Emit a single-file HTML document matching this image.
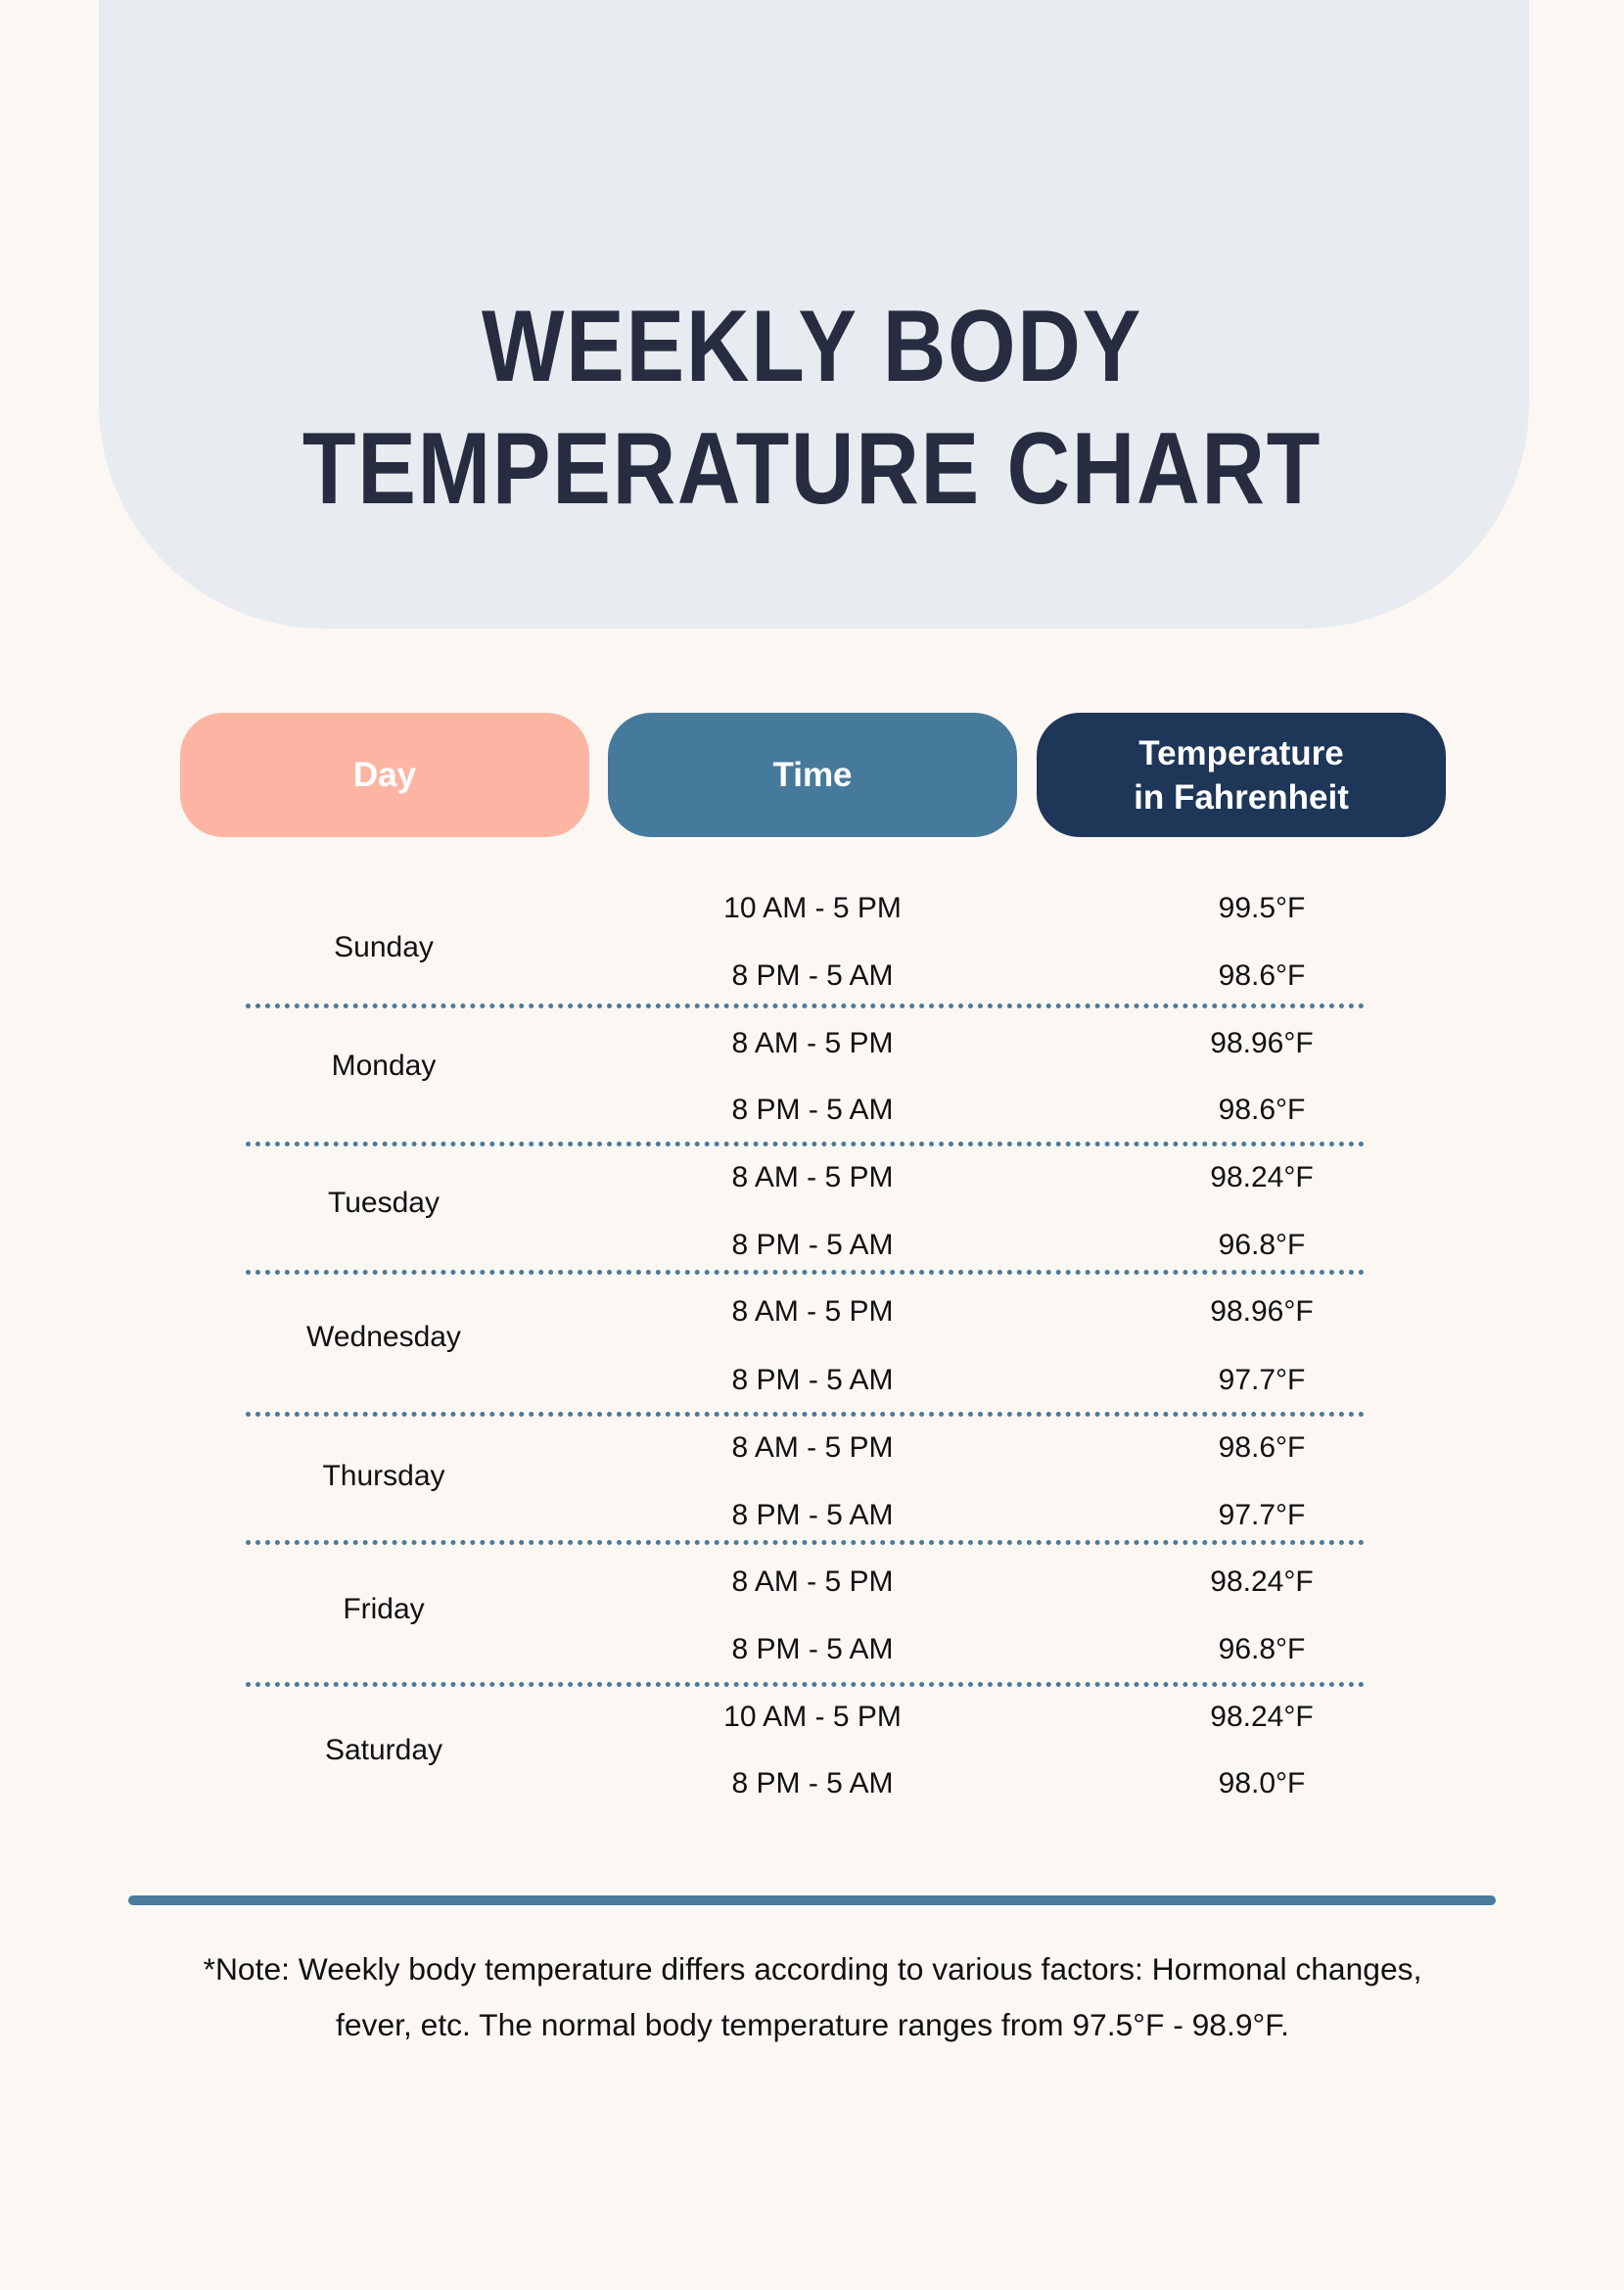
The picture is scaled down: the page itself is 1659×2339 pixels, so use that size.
<!DOCTYPE html>
<html><head><meta charset="utf-8"><style>
*{margin:0;padding:0;box-sizing:border-box}
body{width:1659px;height:2339px;background:#FBF7F3;position:relative;overflow:hidden;font-family:"Liberation Sans",sans-serif;color:#111}
.panel{position:absolute;left:101px;top:-20px;width:1461px;height:662px;background:#E8ECF1;border-radius:0 0 230px 230px}
.t{position:absolute;left:0;width:1659px;text-align:center;line-height:1}
.title{font-weight:bold;color:#282C41;font-size:104px;transform:scaleX(0.86);letter-spacing:2px}
.pill{position:absolute;top:728px;height:127px;width:418px;border-radius:44px;color:#fff;font-weight:bold;font-size:35px;display:flex;align-items:center;justify-content:center;text-align:center;line-height:45px}
.c{position:absolute;transform:translate(-50%,-50%);font-size:30px;white-space:nowrap;line-height:1}
.dot{position:absolute;left:251px;width:1143px;border-top:5px dotted #4A7A9C}
.r{margin-top:2px}
</style></head><body>
<div class="panel"></div>
<div class="t title" style="top:302px">WEEKLY BODY</div>
<div class="t title" style="top:427px">TEMPERATURE CHART</div>
<div class="pill" style="left:184px;background:#FDB5A3">Day</div>
<div class="pill" style="left:621px;background:#467A9C">Time</div>
<div class="pill" style="left:1059px;background:#1E3657">Temperature<br>in Fahrenheit</div>

<div class="c r" style="left:392px;top:966px">Sunday</div>
<div class="c r" style="left:830px;top:926px">10 AM - 5 PM</div><div class="c r" style="left:1289px;top:926px">99.5°F</div>
<div class="c r" style="left:830px;top:995px">8 PM - 5 AM</div><div class="c r" style="left:1289px;top:995px">98.6°F</div>
<div class="dot" style="top:1025px"></div>

<div class="c r" style="left:392px;top:1087px">Monday</div>
<div class="c r" style="left:830px;top:1064px">8 AM - 5 PM</div><div class="c r" style="left:1289px;top:1064px">98.96°F</div>
<div class="c r" style="left:830px;top:1132px">8 PM - 5 AM</div><div class="c r" style="left:1289px;top:1132px">98.6°F</div>
<div class="dot" style="top:1166px"></div>

<div class="c r" style="left:392px;top:1227px">Tuesday</div>
<div class="c r" style="left:830px;top:1201px">8 AM - 5 PM</div><div class="c r" style="left:1289px;top:1201px">98.24°F</div>
<div class="c r" style="left:830px;top:1270px">8 PM - 5 AM</div><div class="c r" style="left:1289px;top:1270px">96.8°F</div>
<div class="dot" style="top:1297px"></div>

<div class="c r" style="left:392px;top:1364px">Wednesday</div>
<div class="c r" style="left:830px;top:1338px">8 AM - 5 PM</div><div class="c r" style="left:1289px;top:1338px">98.96°F</div>
<div class="c r" style="left:830px;top:1408px">8 PM - 5 AM</div><div class="c r" style="left:1289px;top:1408px">97.7°F</div>
<div class="dot" style="top:1442px"></div>

<div class="c r" style="left:392px;top:1506px">Thursday</div>
<div class="c r" style="left:830px;top:1477px">8 AM - 5 PM</div><div class="c r" style="left:1289px;top:1477px">98.6°F</div>
<div class="c r" style="left:830px;top:1546px">8 PM - 5 AM</div><div class="c r" style="left:1289px;top:1546px">97.7°F</div>
<div class="dot" style="top:1573px"></div>

<div class="c r" style="left:392px;top:1642px">Friday</div>
<div class="c r" style="left:830px;top:1614px">8 AM - 5 PM</div><div class="c r" style="left:1289px;top:1614px">98.24°F</div>
<div class="c r" style="left:830px;top:1683px">8 PM - 5 AM</div><div class="c r" style="left:1289px;top:1683px">96.8°F</div>
<div class="dot" style="top:1718px"></div>

<div class="c r" style="left:392px;top:1786px">Saturday</div>
<div class="c r" style="left:830px;top:1752px">10 AM - 5 PM</div><div class="c r" style="left:1289px;top:1752px">98.24°F</div>
<div class="c r" style="left:830px;top:1820px">8 PM - 5 AM</div><div class="c r" style="left:1289px;top:1820px">98.0°F</div>

<div style="position:absolute;left:131px;top:1936px;width:1397px;height:10px;background:#4A7A9C;border-radius:5px"></div>
<div class="c" style="left:830px;top:2012px;font-size:31.8px">*Note: Weekly body temperature differs according to various factors: Hormonal changes,</div>
<div class="c" style="left:830px;top:2069px;font-size:31.8px">fever, etc. The normal body temperature ranges from 97.5°F - 98.9°F.</div>
</body></html>
